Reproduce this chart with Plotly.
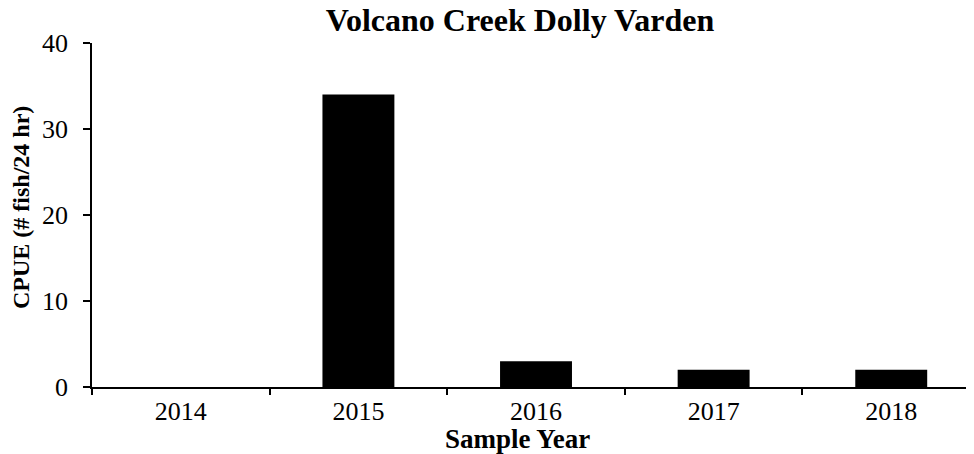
import plotly.graph_objects as go

years = ["2014", "2015", "2016", "2017", "2018"]
cpue = [0, 34, 3, 2, 2]
y_ticks = [0, 10, 20, 30, 40]

# the page body has an 8px margin, so the figure is drawn 8px smaller and offset
OFF = 8
W, H = 974 - OFF, 454 - OFF
L, R, T, B = 92 - OFF, 0, 43 - OFF, 454 - 387
FONT = "Liberation Serif, Times New Roman, serif"

fig = go.Figure()
fig.add_trace(go.Bar(x=years, y=cpue, marker=dict(color="black", line=dict(width=0))))

pw = W - L - R
ph = H - T - B
def px_x(x):
    return (x - OFF - L) / pw
def px_y(y):
    return (H - B - (y - OFF)) / ph

fig.update_layout(
    width=W, height=H,
    margin=dict(l=L, r=R, t=T, b=B, pad=0),
    plot_bgcolor="white", paper_bgcolor="white",
    bargap=0.595,
    showlegend=False,
    font=dict(family=FONT, color="black", size=26),
    title=dict(text="<b>Volcano Creek Dolly Varden</b>", font=dict(family=FONT, size=32, color="black"),
               xref="container", yref="container", x=(520 - OFF) / W, xanchor="center",
               y=1 - (19.5 - OFF) / H, yanchor="middle"),
    xaxis=dict(
        type="category", range=[-0.5, 4.466],
        showline=True, linecolor="black", linewidth=1.5,
        ticks="outside", tickson="boundaries", ticklen=6, tickwidth=1.5, tickcolor="black",
        tickfont=dict(family=FONT, size=26, color="black"),
        showgrid=False, zeroline=False,
    ),
    yaxis=dict(
        range=[0, 40], tickvals=y_ticks,
        showline=True, linecolor="black", linewidth=1.5,
        ticks="outside", ticklen=7, tickwidth=1.5, tickcolor="black",
        ticklabelstandoff=10,
        tickfont=dict(family=FONT, size=26, color="black"),
        showgrid=False, zeroline=False,
    ),
    annotations=[
        dict(text="<b>CPUE (# fish/24 hr)</b>", textangle=-90, xref="paper", yref="paper",
             x=px_x(21), y=px_y(208), xanchor="center", yanchor="middle", showarrow=False,
             font=dict(family=FONT, size=24, color="black")),
        dict(text="<b>Sample Year</b>", xref="paper", yref="paper",
             x=px_x(517), y=px_y(439), xanchor="center", yanchor="middle", showarrow=False,
             font=dict(family=FONT, size=27, color="black")),
    ],
)

fig.write_html("out.html")
